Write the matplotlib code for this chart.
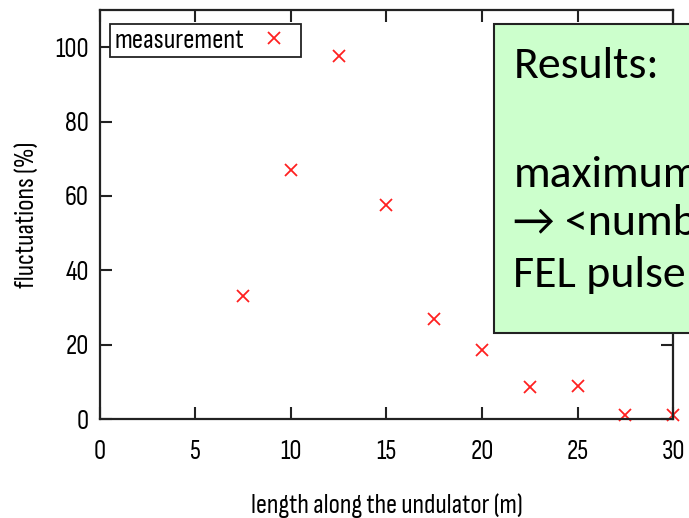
import matplotlib.pyplot as plt
from matplotlib.patches import Rectangle

# fluctuation measurement along the undulator
length_m = [7.5, 10, 12.5, 15, 17.5, 20, 22.5, 25, 27.5, 30]
fluct_pct = [33, 67, 97.5, 57.5, 27, 18.5, 8.5, 9, 1, 1]

x_ticks = [0, 5, 10, 15, 20, 25, 30]
y_ticks = [0, 20, 40, 60, 80, 100]

box_title = "Results:"
box_lines = ["maximum", "\u2192 <number", "FEL pulse"]

axis_font = 'Sofia Sans Condensed'
box_font = ['Carlito', 'DejaVu Sans']

fig = plt.figure(figsize=(6.89, 5.18), dpi=100)
ax = fig.add_axes([0.1451, 0.1911, 0.8317, 0.7896])

ax.plot(length_m, fluct_pct, linestyle='none', marker='x', color='#ff2020',
        markersize=8, markeredgewidth=1.3, label='measurement', clip_on=False)

ax.set_xlim(0, 30)
ax.set_ylim(0, 110)
ax.set_xticks(x_ticks)
ax.set_yticks(y_ticks)
ax.tick_params(direction='in', length=8.5, width=1.5, color='#222222',
               top=True, right=True, labelsize=19.5)
ax.tick_params(axis='x', pad=15)
ax.tick_params(axis='y', pad=8)
for lab in ax.get_xticklabels() + ax.get_yticklabels():
    lab.set_family(axis_font)
for sp in ax.spines.values():
    sp.set_linewidth(1.6)
    sp.set_color('#222222')

ax.set_xlabel('length along the undulator (m)', family=axis_font, fontsize=19.5, labelpad=21)
ax.set_ylabel('fluctuations (%)', family=axis_font, fontsize=19.5, labelpad=12)

leg = ax.legend(loc='upper left', bbox_to_anchor=(0.0175, 0.9658), borderaxespad=0,
                markerfirst=False, fancybox=False, framealpha=1, edgecolor='#222222',
                borderpad=0.15, handletextpad=0.3, handlelength=1.6,
                prop={'family': axis_font, 'size': 20})
leg.get_frame().set_linewidth(1.3)

# green results box, running off the right edge
box = Rectangle((0.717, 0.357), 0.35, 0.5965, transform=fig.transFigure,
                facecolor='#ccffcc', edgecolor='#222222', linewidth=1.5,
                zorder=5)
fig.patches.append(box)
fig.text(0.745, 0.8494, box_title, family=box_font, fontsize=33,
         va='baseline', ha='left', zorder=6)
for line, yb in zip(box_lines, [0.639, 0.5463, 0.446]):
    fig.text(0.745, yb, line, family=box_font, fontsize=33,
             va='baseline', ha='left', zorder=6)

fig.savefig('out.png', dpi=100)
